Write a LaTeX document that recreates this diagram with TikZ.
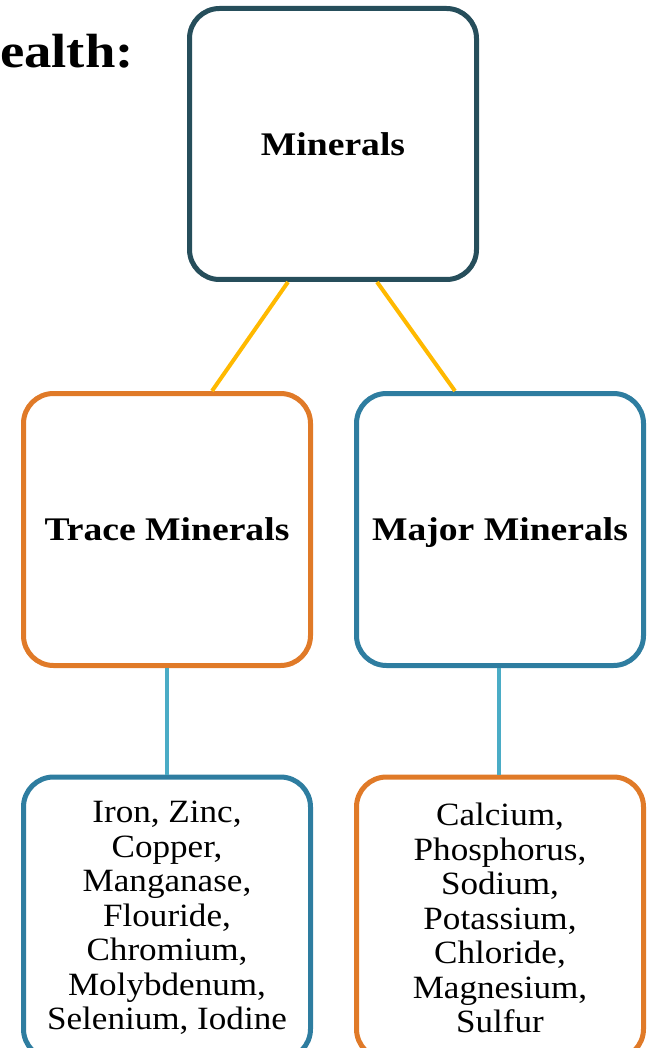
\documentclass[tikz,border=0pt]{standalone}
\usepackage{fontspec}
\setmainfont{Liberation Serif}
\newfontfamily\headfont[FakeStretch=1.14]{Liberation Serif}
\newfontfamily\listfont[FakeStretch=1.08]{Liberation Serif}
\definecolor{slateline}{HTML}{264E5B}
\definecolor{orangeline}{HTML}{E07A28}
\definecolor{blueline}{HTML}{2E7DA0}
\definecolor{goldline}{HTML}{FFB900}
\definecolor{skyline}{HTML}{4AACC6}
\begin{document}
\begin{tikzpicture}[x=1pt,y=-1pt,line join=round,line cap=round,
			box/.style={draw,line width=5pt,rounded corners=30pt,fill=white,minimum width=287pt,align=center,text=black},
			head/.style={box,minimum height=272pt,text depth=0pt,font=\headfont\bfseries\fontsize{33}{40}\selectfont},
			list/.style={box,minimum height=282pt,font=\listfont\fontsize{32.5}{34.5}\selectfont},
			goldlink/.style={goldline,line width=4pt,line cap=butt},
			skylink/.style={skyline,line width=4pt,line cap=butt}]
			\useasboundingbox (0,0) rectangle (650,1048);
			%%Tiêu đề bị cắt
			\node[anchor=base east,inner sep=0pt,font=\headfont\bfseries\fontsize{48}{56}\selectfont] (title) at (134,68) {ealth:};
			%%Các ô
			\node[head,draw=slateline,minimum height=271pt] (minerals) at (333,144) {Minerals};
			\node[head,draw=orangeline] (trace) at (167,529.5) {Trace Minerals};
			\node[head,draw=blueline] (major) at (500,529.5) {Major Minerals};
			\node[list,draw=blueline] (tracelist) at (167,918) {Iron, Zinc,\\Copper,\\Manganase,\\Flouride,\\Chromium,\\Molybdenum,\\Selenium, Iodine};
			\node[list,draw=orangeline] (majorlist) at (500,918) {Calcium,\\Phosphorus,\\Sodium,\\Potassium,\\Chloride,\\Magnesium,\\Sulfur};
			%%Đường nối
			\draw[goldlink] ([xshift=-45pt]minerals.south) -- ([xshift=45pt]trace.north);
			\draw[goldlink] ([xshift=44pt]minerals.south) -- ([xshift=-45pt]major.north);
			\draw[skylink] (trace.south) -- (tracelist.north);
			\draw[skylink] ([xshift=-1pt]major.south) -- ([xshift=-1pt]majorlist.north);
		\end{tikzpicture}
\end{document}
